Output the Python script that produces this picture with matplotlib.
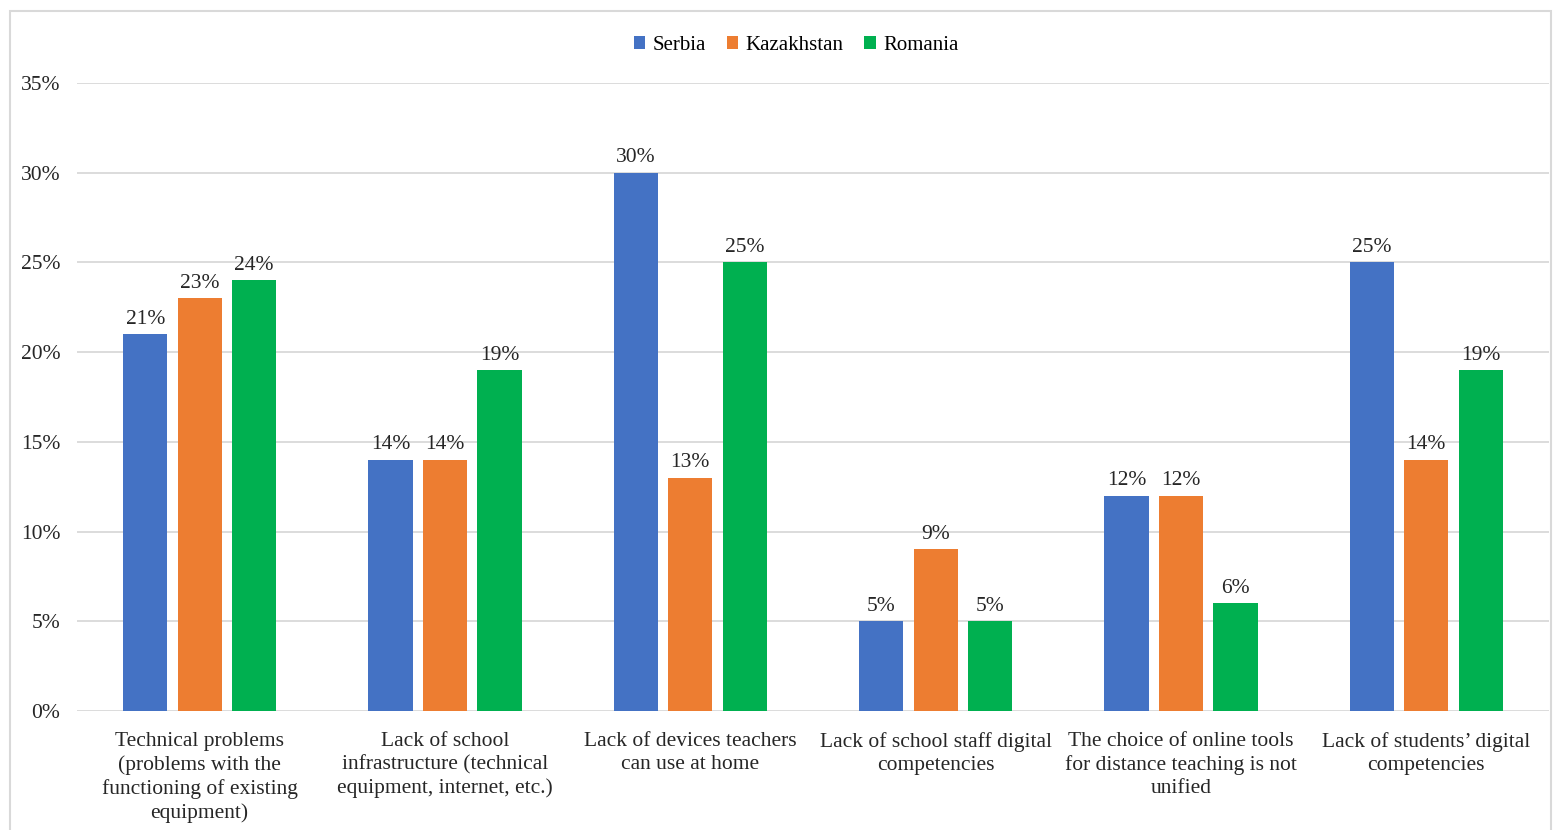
import numpy as np
import matplotlib.pyplot as plt
from matplotlib.patches import Rectangle
from matplotlib.ticker import PercentFormatter

categories = [
    "Technical problems\n(problems with the\nfunctioning of existing\nequipment)",
    "Lack of school\ninfrastructure (technical\nequipment, internet, etc.)",
    "Lack of devices teachers\ncan use at home",
    "Lack of school staff digital\ncompetencies",
    "The choice of online tools\nfor distance teaching is not\nunified",
    "Lack of students\u2019 digital\ncompetencies",
]
serbia = [21, 14, 30, 5, 12, 25]
kazakhstan = [23, 14, 13, 9, 12, 14]
romania = [24, 19, 25, 5, 6, 19]

series = [("Serbia", serbia, "#4472C4"),
          ("Kazakhstan", kazakhstan, "#ED7D31"),
          ("Romania", romania, "#00B050")]

plt.rcParams['font.family'] = ['Liberation Serif', 'DejaVu Serif']

fig = plt.figure(figsize=(15.56, 8.30), dpi=100)
ax = fig.add_axes([0.0495, 0.1434, 0.946, 0.7566])

x = np.arange(len(categories))
step = 0.222
width = 0.18
for i, (name, vals, color) in enumerate(series):
    pos = x + (i - 1) * step
    bars = ax.bar(pos, np.array(vals) / 100, width, color=color, label=name, zorder=3)
    for b, v in zip(bars, vals):
        ax.annotate(f"{v}%", (b.get_x() + b.get_width() / 2, b.get_height()),
                    xytext=(0, 4), textcoords="offset points",
                    ha="center", va="bottom", fontsize=15.5, color="#262626")

ax.set_xlim(-0.5, len(categories) - 0.5)
ax.set_ylim(0, 0.35)
ax.set_yticks(np.arange(0, 0.351, 0.05))
ax.yaxis.set_major_formatter(PercentFormatter(1.0, decimals=0))
ax.grid(axis="y", color="#D9D9D9", linewidth=1.3, zorder=0)
ax.set_xticks(x)
ax.set_xticklabels(categories, fontsize=15.5, linespacing=1.28, color="#262626")
ax.tick_params(axis="y", labelsize=15.5, labelcolor="#262626", length=0, pad=12)
ax.tick_params(axis="x", length=0, pad=15)
for s in ax.spines.values():
    s.set_visible(False)

ax.legend(loc="upper center", bbox_to_anchor=(0.4885, 1.105), ncol=3, frameon=False,
          fontsize=15, handlelength=0.55, handleheight=0.55, handletextpad=0.35,
          columnspacing=1.0)

# light frame around the whole chart
fig.patches.append(Rectangle((10 / 1556, -0.01), 1541 / 1556, 1 - 11 / 830 + 0.01,
                             transform=fig.transFigure, fill=False,
                             edgecolor="#D9D9D9", linewidth=1.5))

fig.savefig("out.png", dpi=100)
